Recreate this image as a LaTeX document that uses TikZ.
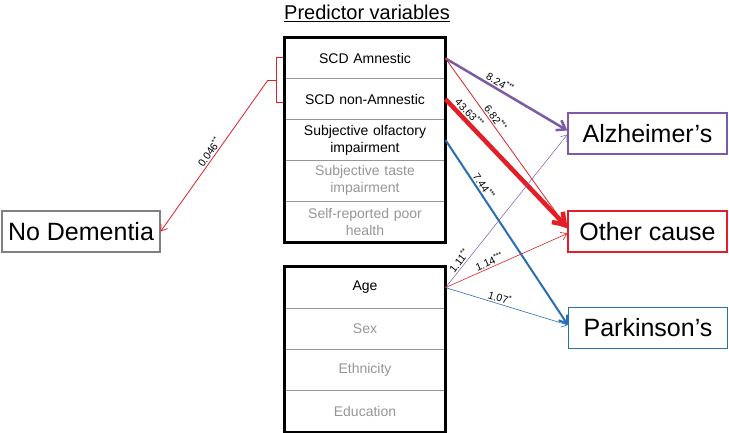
\documentclass[tikz,border=0pt]{standalone}
\usepackage{fontspec}
\setmainfont{Liberation Sans}
\usetikzlibrary{arrows.meta}
\definecolor{alzpurple}{RGB}{125,90,165}
\definecolor{othred}{RGB}{228,30,38}
\definecolor{parkblue}{RGB}{40,110,180}
\definecolor{rowgrey}{RGB}{150,150,150}
\tikzset{
  predrow/.style={draw=rowgrey, line width=1pt, minimum width=160pt, minimum height=#1, inner sep=0pt,
    align=center, text width=150pt, font=\fontsize{14}{17}\selectfont},
  outcome/.style={draw=#1, line width=1.2pt, minimum width=159pt, minimum height=41pt, inner sep=0pt,
    font=\fontsize{25}{27}\selectfont},
  effect/.style={font=\fontsize{10.5}{11}\selectfont, sloped, above, inner sep=1.5pt},
  barb/.style={-{Straight Barb[angle=70:#1]}}
}
\begin{document}
\begin{tikzpicture}[x=1pt, y=-1pt]
    \useasboundingbox (0,0) rectangle (729,433);
    \node[font=\fontsize{20}{22}\selectfont] (title) at (367,13) {\underline{Predictor variables}};
    % predictor boxes
    \node[predrow=40.8pt] (scda) at (365,58.4) {SCD Amnestic};
    \node[predrow=40.8pt] (scdn) at (365,99.2) {SCD non-Amnestic};
    \node[predrow=40.8pt] (olf) at (365,140) {Subjective olfactory\\impairment};
    \node[predrow=40.8pt, text=rowgrey] (taste) at (365,180.8) {Subjective taste\\impairment};
    \node[predrow=40.8pt, text=rowgrey] (health) at (365,221.6) {Self-reported poor\\health};
    \draw[line width=2.5pt] (scda.north west) rectangle (health.south east);
    \node[predrow=41.25pt] (age) at (365,287.6) {Age};
    \node[predrow=41.25pt, text=rowgrey] (sex) at (365,328.9) {Sex};
    \node[predrow=41.25pt, text=rowgrey] (eth) at (365,370.1) {Ethnicity};
    \node[predrow=41.25pt, text=rowgrey] (edu) at (365,411.4) {Education};
    \draw[line width=2.5pt] (age.north west) rectangle (edu.south east);
    % outcomes
    \node[outcome=alzpurple] (alz) at (647.5,133.5) {Alzheimer’s};
    \node[outcome=othred] (oth) at (647.5,231.5) {Other cause};
    \node[outcome=parkblue] (park) at (648,328) {Parkinson’s};
    \node[outcome=gray, minimum width=158pt] (nodem) at (81,231.5) {No Dementia};
    % bracket on the SCD rows
    \draw[othred, line width=0.7pt] (283,57) -- (276,57) -- (276,102) -- (283,102);
    \draw[othred, line width=0.7pt] (276,80) -- (268,80) coordinate (brk);
    \draw[othred, line width=0.8pt, barb=7pt] (brk) -- (nodem.east) node[effect, pos=.5, text=black] {0.046\textsuperscript{**}};
    % effects
    \draw[alzpurple, line width=2.5pt, barb=10pt] (scda.east) -- ([yshift=3pt]alz.west) node[effect, pos=.42, text=black] {8.24\textsuperscript{***}};
    \draw[othred, line width=0.8pt, barb=7pt] (scda.east) -- ([yshift=3pt]oth.west) node[effect, pos=.37, text=black] {6.82\textsuperscript{***}};
    \draw[othred, line width=4.5pt, barb=13pt] (scdn.east) -- ([yshift=4pt]oth.west) node[effect, pos=.15, text=black] {43.63\textsuperscript{***}};
    \draw[parkblue, line width=2pt, barb=9pt] (olf.east) -- ([yshift=3pt]park.west) node[effect, pos=.27, text=black] {7.44\textsuperscript{***}};
    \draw[alzpurple, line width=0.5pt, barb=7pt] (age.east) -- ([yshift=-1pt]alz.west) node[effect, pos=.15, text=black] {1.11\textsuperscript{**}};
    \draw[othred, line width=0.6pt, barb=7pt] (age.east) -- ([yshift=-2pt]oth.west) node[effect, pos=.38, text=black] {1.14\textsuperscript{***}};
    \draw[parkblue, line width=0.6pt, barb=7pt] (age.east) -- ([yshift=3pt]park.west) node[effect, pos=.43, text=black] {1.07\textsuperscript{*}};
\end{tikzpicture}
\end{document}
